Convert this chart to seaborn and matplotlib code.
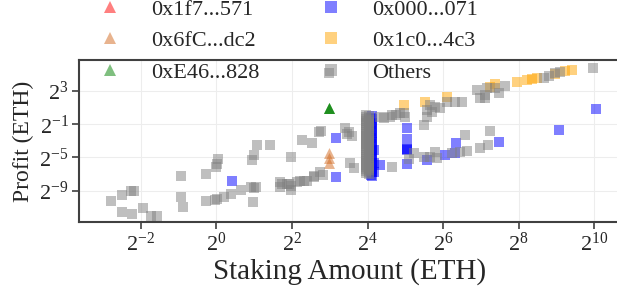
import numpy as np
import pandas as pd
import matplotlib
matplotlib.use("Agg")
import matplotlib.pyplot as plt
import matplotlib.ticker as mticker
from matplotlib.lines import Line2D
import seaborn as sns

sns.set_style("whitegrid", {'grid.color': '#ededed', 'axes.edgecolor': '#404040',
                            'xtick.bottom': True, 'ytick.left': True})
plt.rcParams['font.family'] = ['Liberation Serif', 'DejaVu Serif']
plt.rcParams['mathtext.fontset'] = 'stix'

# wallets (legend order) -> colour, marker
wallets = ['0x1f7...571', '0x6fC...dc2', '0xE46...828', '0x000...071', '0x1c0...4c3', 'Others']
colors  = ['red', 'chocolate', 'green', 'blue', 'orange', 'gray']
markers = ['^', '^', '^', 's', 's', 's']

# values, as log2(ETH)
red_stake, red_profit = [], []

peach_stake  = [2.99, 2.99, 2.99]
peach_profit = [-4.5, -5.1, -5.7]

green_stake  = [2.99, 2.99, 2.99]
green_profit = [0.9, 0.9, 0.9]

blue_stake = [0.42, 3.17, 3.16,
              4.12, 4.12, 4.12, 4.12, 4.12, 4.12, 4.12, 4.12, 4.12, 4.12, 4.12,
              4.12, 4.12, 4.12, 4.12, 4.12, 4.12, 4.12, 4.12, 4.12, 4.12, 4.12,
              4.1, 4.1, 4.1, 4.1, 4.1, 4.1, 4.1, 4.1, 4.1, 4.1,
              4.18, 4.18, 4.18,
              5.04, 5.04, 5.04, 5.04, 5.04, 5.04,
              4.34, 5.57, 6.06, 6.35, 6.32, 7.49, 9.07, 10.04]
blue_profit = [-7.8, -2.7, -7.3,
               0.0, -0.4, -0.8, -1.2, -1.6, -2.0, -2.4, -2.8, -3.2, -3.6, -4.0,
               -4.1, -4.4, -4.8, -5.2, -5.6, -5.7, -6.0, -6.4, -6.7, -6.8, -7.2,
               -0.2, -1.0, -1.8, -2.6, -3.4, -4.2, -5.0, -5.8, -6.6, -7.1,
               -4.1, -5.7, -6.7,
               -1.4, -2.8, -4.0, -4.0, -4.1, -5.8,
               -5.9, -5.3, -4.7, -3.3, -4.5, -3.2, -1.7, 0.8]

orange_stake  = [4.96, 5.53, 6.1, 7.25, 7.38, 7.95, 8.22, 8.35, 8.48, 8.95, 9.23, 9.41]
orange_profit = [1.3, 1.7, 2.3, 3.5, 3.8, 4.1, 4.3, 4.4, 4.5, 5.0, 5.4, 5.5]

others_stake = [-2.79, -2.5, -2.26, -2.19, -2.49, -2.23, -1.95, -1.73, -1.58,
                -0.93, -0.93, -0.89, -0.27, 0.03, -0.01, 0.02,
                -0.27, -0.05, 0.02, 0.19, 0.39, 0.65, 0.92, 1.0, 0.98, 1.05,
                1.08, 1.43, 0.99, 0.95, 1.96,
                2.27, 2.53, 2.71, 2.77, 2.99,
                1.69, 1.74, 1.87, 1.91, 1.96, 2.13, 2.22, 2.31, 2.4, 2.57, 2.57, 2.75, 2.81,
                1.69, 1.96,
                3.39, 3.45, 3.5, 3.59, 3.54, 3.63,
                # the dense column at 16 ETH
                3.96, 3.96, 3.96, 3.96, 3.96, 3.96, 3.96, 3.96, 3.96, 3.96,
                3.96, 3.96, 3.96, 3.96, 3.96, 3.96, 3.96, 3.96, 3.96, 3.96,
                3.96, 3.96, 3.96, 3.96, 3.96, 3.96, 3.96, 3.96, 3.96,
                4.04, 4.04, 4.04, 4.04, 4.04, 4.04, 4.04, 4.04, 4.04, 4.04,
                4.04, 4.04, 4.04, 4.04, 4.04, 4.04, 4.04, 4.04, 4.04, 4.04,
                4.04, 4.04, 4.04, 4.04, 4.04, 4.04, 4.04, 4.04, 4.04,
                4.34, 4.43, 4.6, 4.65, 4.74, 4.87, 4.96, 5.0, 5.49,
                5.57, 5.66, 5.7, 5.79, 5.93, 5.57, 6.1, 6.32, 6.5,
                6.9, 6.98, 7.1, 7.12, 7.16, 7.38, 7.47, 7.65,
                8.66, 8.8, 8.97, 9.1, 9.96,
                6.59, 7.25,
                4.65, 5.1, 5.22, 5.5, 5.66, 5.79, 5.84, 6.24, 6.46, 6.63, 6.98, 7.2]
others_profit = [-10.2, -9.5, -9.0, -9.0, -11.6, -11.8, -11.1, -12.0, -12.0,
                 -7.2, -9.8, -11.0, -7.0, -5.2, -6.1, -5.8,
                 -10.2, -10.1, -10.0, -9.7, -9.4, -8.9, -8.5, -8.7, -10.3, -8.6,
                 -3.5, -3.5, -4.7, -5.3, -4.9,
                 -2.9, -3.3, -1.9, -1.8, 5.2,
                 -8.0, -8.2, -8.2, -8.2, -8.4, -8.0, -7.8, -7.8, -7.8, -7.4, -7.2, -6.8, -7.1,
                 -8.5, -8.9,
                 -1.5, -2.2, -1.9, -2.4, -5.7, -6.3,
                 0.1, -0.15, -0.4, -0.65, -0.9, -1.15, -1.4, -1.65, -1.9, -2.15,
                 -2.4, -2.65, -2.9, -3.15, -3.4, -3.65, -3.9, -4.15, -4.4, -4.65,
                 -4.9, -5.15, -5.4, -5.65, -5.9, -6.15, -6.4, -6.65, -6.9,
                 0.0, -0.25, -0.5, -0.75, -1.0, -1.25, -1.5, -1.75, -2.0, -2.25,
                 -2.5, -2.75, -3.0, -3.25, -3.5, -3.75, -4.0, -4.25, -4.5, -4.75,
                 -5.0, -5.25, -5.5, -5.75, -6.0, -6.25, -6.5, -6.75, -7.0,
                 -0.1, -0.3, -0.1, 0.1, 0.1, 0.3, 0.3, -0.1, -1.1,
                 0.7, 1.3, 0.5, 1.1, 0.9, -0.1, 1.7, 1.7, 1.7,
                 3.1, 2.1, 2.5, 2.1, 3.3, 3.3, 2.7, 3.6,
                 4.6, 4.8, 5.1, 5.3, 5.8,
                 -2.3, -1.8,
                 -6.1, -5.2, -4.5, -5.0, -4.9, -4.3, -5.1, -4.5, -4.3, -4.2, -3.9, -3.5]

groups = [(red_stake, red_profit), (peach_stake, peach_profit), (green_stake, green_profit),
          (blue_stake, blue_profit), (orange_stake, orange_profit), (others_stake, others_profit)]

fig = plt.figure(figsize=(6.17, 2.91), dpi=100)
ax = fig.add_axes([79 / 617, 69 / 291, 542 / 617, 162 / 291])

for name, col, mk, (xs, ys) in zip(wallets, colors, markers, groups):
    if len(xs) == 0:
        continue
    df = pd.DataFrame({'stake': np.exp2(xs), 'profit': np.exp2(ys)})
    sns.scatterplot(data=df, x='stake', y='profit', color=col, marker=mk, s=62,
                    alpha=0.5, linewidth=0, ax=ax, legend=False)

ax.set_xscale('log', base=2)
ax.set_yscale('log', base=2)
ax.set_xlim(2 ** -3.64, 2 ** 10.71)
ax.set_ylim(2 ** -12.76, 2 ** 6.72)
ax.set_xticks([2.0 ** k for k in [-2, 0, 2, 4, 6, 8, 10]])
ax.set_yticks([2.0 ** k for k in [-9, -5, -1, 3]])
ax.xaxis.set_major_formatter(mticker.LogFormatterMathtext(base=2))
ax.yaxis.set_major_formatter(mticker.LogFormatterMathtext(base=2))
ax.xaxis.set_minor_locator(mticker.NullLocator())
ax.yaxis.set_minor_locator(mticker.NullLocator())
ax.tick_params(axis='both', labelsize=16, length=5, width=1.2, color='#404040', pad=2.5)
ax.grid(True, linewidth=0.8)
for sp in ax.spines.values():
    sp.set_linewidth(1.5)

ax.set_xlabel('Staking Amount (ETH)', fontsize=21, labelpad=2)
ax.set_ylabel('Profit (ETH)', fontsize=17, labelpad=4)

handles = [Line2D([], [], linestyle='', marker=mk, color=col, alpha=0.5,
                  markersize=8, markeredgewidth=0, label=name)
           for name, col, mk in zip(wallets, colors, markers)]
fig.legend(handles=handles, ncol=2, loc='center left', bbox_to_anchor=(99 / 617, 1 - 41 / 291),
           frameon=False, fontsize=16, borderpad=0, borderaxespad=0, handlelength=1.0,
           handletextpad=1.35, columnspacing=2.7, labelspacing=0.5)

fig.savefig('out.png', dpi=100)
